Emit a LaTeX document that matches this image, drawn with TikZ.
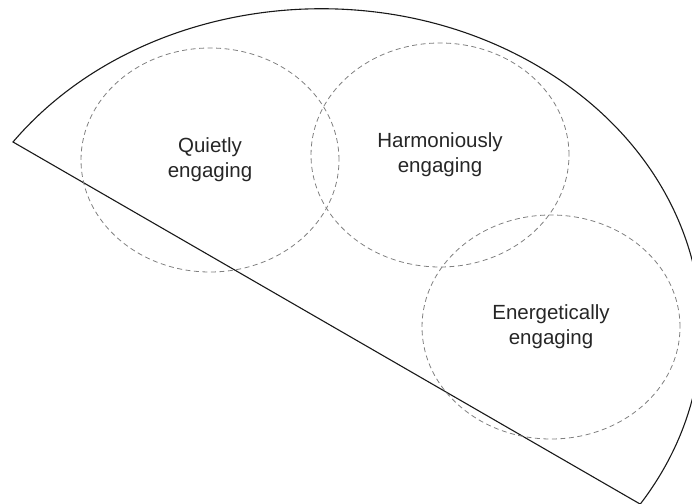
\documentclass[tikz,border=0pt]{standalone}
\usepackage{fontspec}
\setmainfont{Liberation Sans}
\usepackage{tikz}
\usetikzlibrary{shapes.geometric}

\begin{document}
\begin{tikzpicture}[x=1pt,y=1pt]
% 1 = 1px of the reference
    \def\RX{380} %radii of outer arc
    \def\RY{321}
    \def\ZONEW{258pt} %width of dashed zones
    \def\ZONEH{224pt}

    \tikzset{
      outline/.style={line width=1.1pt, color=black!90, line join=miter},
      zone/.style={ellipse, draw=black!50, dash pattern=on 5pt off 3.5pt,
        line width=0.8pt, minimum width=\ZONEW, minimum height=\ZONEH,
        inner sep=0pt, align=center,
        font=\fontsize{20.5}{25}\selectfont, text=black!85},
    }

    \useasboundingbox (0,0) rectangle (692,503);

    % OUTER SEGMENT
    \coordinate (A) at (13,361);
    \draw[outline] (A)
        arc[start angle=144.2, end angle=-32.9, x radius=\RX, y radius=\RY]
        coordinate (B) -- cycle;

    % DASHED ZONES
    \node[zone] (quiet) at (210,343) {Quietly\\engaging};
    \node[zone] (harmony) at (440,348) {Harmoniously\\engaging};
    \node[zone] (energy) at (551,176) {Energetically\\engaging};

\end{tikzpicture}
\end{document}
